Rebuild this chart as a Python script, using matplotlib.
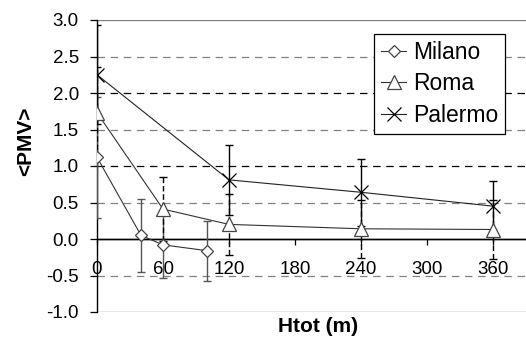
import matplotlib.pyplot as plt

plt.rcParams['font.family'] = ['Liberation Sans', 'DejaVu Sans']

# --- datos ---
milano_x = [0, 40, 60, 100]
milano_y = [1.12, 0.05, -0.08, -0.16]
milano_err = [0.83, 0.50, 0.45, 0.41]

roma_x = [0, 60, 120, 240, 360]
roma_y = [1.73, 0.41, 0.20, 0.14, 0.13]
roma_err = [0.62, 0.44, 0.42, 0.40, 0.41]

palermo_x = [0, 120, 240, 360]
palermo_y = [2.25, 0.81, 0.64, 0.45]
palermo_err = [0.68, 0.48, 0.46, 0.34]

xticks = [0, 60, 120, 180, 240, 300, 360]
yticks = [-1.0, -0.5, 0.0, 0.5, 1.0, 1.5, 2.0, 2.5, 3.0]

fig = plt.figure(figsize=(5.26, 3.40), dpi=100)
ax = fig.add_axes([97 / 526, 28 / 340, 429 / 526, 292 / 340])

# griglia: interi neri, mezzi grigi
for v in yticks:
    if v in (-1.0, 3.0):
        ax.axhline(v, color='#808080', lw=1.0, zorder=1)
    elif v == 0.0:
        ax.axhline(v, color='black', lw=1.0, zorder=2)
    elif float(v).is_integer():
        ax.axhline(v, color='black', lw=0.9, ls=(0, (6, 4.5)), zorder=1)
    else:
        ax.axhline(v, color='#808080', lw=0.9, ls=(0, (6, 4.5)), zorder=1)

# barre di errore
ax.errorbar(milano_x, milano_y, yerr=milano_err, fmt='none', ecolor='#555555',
            elinewidth=1.0, capsize=3, capthick=1.0, zorder=3)
eb = ax.errorbar(roma_x, roma_y, yerr=roma_err, fmt='none', ecolor='black',
                 elinewidth=1.0, capsize=3, capthick=1.0, zorder=3)
eb[2][0].set_linestyle((0, (4, 2)))
ax.errorbar(palermo_x, palermo_y, yerr=palermo_err, fmt='none', ecolor='black',
            elinewidth=1.0, capsize=3, capthick=1.0, zorder=3)

# serie
ax.plot(milano_x, milano_y, color='#333333', lw=0.8, marker='D', ms=6.5,
        mfc='white', mec='#444444', mew=0.9, label='Milano', zorder=4)
ax.plot(roma_x, roma_y, color='#333333', lw=0.8, marker='^', ms=10,
        mfc='white', mec='#444444', mew=0.9, label='Roma', zorder=4)
ax.plot(palermo_x, palermo_y, color='#222222', lw=0.8, marker='x', ms=10,
        mec='black', mew=0.9, label='Palermo', zorder=4)

ax.set_xlim(0, 390)
ax.set_ylim(-1.0, 3.0)

ax.spines['top'].set_visible(False)
ax.spines['right'].set_visible(False)
ax.spines['bottom'].set_position(('data', 0))
ax.spines['bottom'].set_linewidth(1.0)
ax.spines['left'].set_linewidth(1.0)

ax.set_xticks(xticks)
ax.set_xticklabels([str(t) for t in xticks])
ax.set_yticks(yticks)
ax.set_yticklabels([f'{t:.1f}' for t in yticks])
ax.tick_params(axis='y', direction='out', length=5, width=0.9, pad=8, labelsize=13.5)
ax.tick_params(axis='x', direction='out', length=4.5, width=0.9, pad=11, labelsize=13.5)

fig.text(0.048, 0.585, '<PMV>', fontsize=15, fontweight='bold', rotation=90,
         ha='center', va='center')
fig.text(0.605, 0.04, 'Htot (m)', fontsize=15, fontweight='bold', ha='center', va='center')

leg = ax.legend(loc='upper right', bbox_to_anchor=(0.952, 0.953), fontsize=16.5,
                frameon=True, fancybox=False, framealpha=1, edgecolor='black',
                handlelength=1.1, handletextpad=0.3, borderpad=0.3,
                labelspacing=0.38, borderaxespad=0)
leg.get_frame().set_linewidth(0.9)

fig.savefig('out.png', dpi=100)
